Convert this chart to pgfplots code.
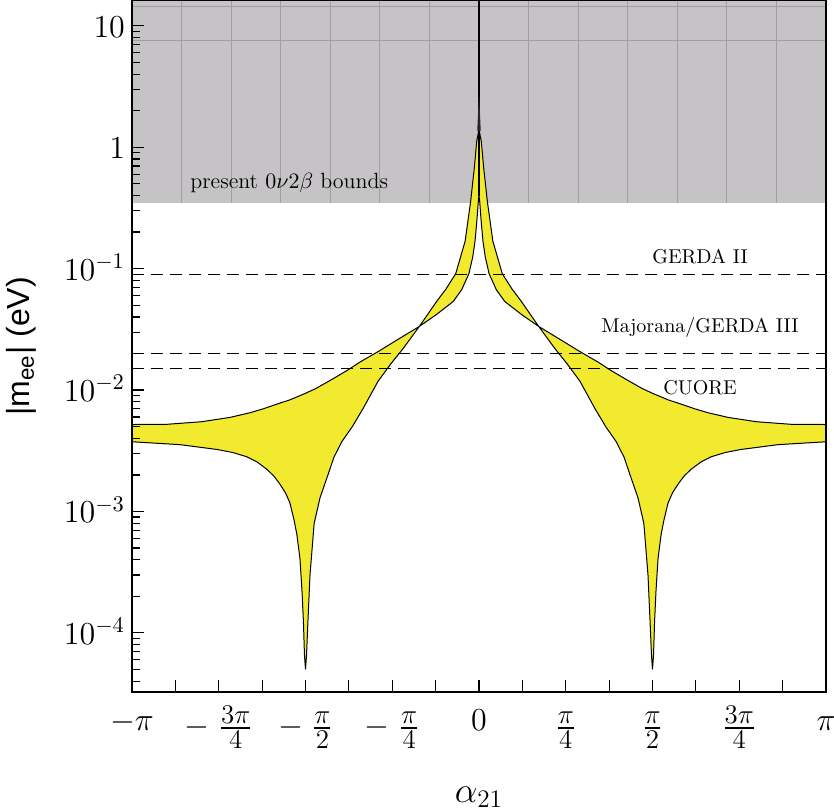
\RequirePackage{fix-cm}
\documentclass[border=0pt]{standalone}
\usepackage{fontspec}
\newfontfamily\arial{Liberation Sans}
\usepackage{pgfplots}
\pgfplotsset{compat=1.18}
\definecolor{grayreg}{RGB}{197,195,197}
\definecolor{gridc}{RGB}{160,158,160}
\definecolor{bandc}{RGB}{242,234,46}
\newcommand\fp[1]{\hbox{\fontsize{13.5}{15}\selectfont$#1$}}
\newcommand\fr[2]{\raisebox{-2.5pt}{${\fp{#1}\above1pt\fp{#2}}$}}
\newcommand\mfr[2]{\raisebox{-2.5pt}{$-\;{\fp{#1}\above1pt\fp{#2}}$}}
\begin{document}
\begin{tikzpicture}
\begin{axis}[
  name=ax,
  scale only axis, width=347pt, height=345.5pt,
  xmin=-1, xmax=1, ymode=log, ymin=3.27e-5, ymax=16.07,
  axis on top,
  axis line style={line width=0.7pt},
  xtick={-1,-0.875,-0.75,-0.625,-0.5,-0.375,-0.25,-0.125,0,0.125,0.25,0.375,0.5,0.625,0.75,0.875,1},
  xticklabels={$-\pi$,{},\mfr{3\pi}{4},{},\mfr{\pi}{2},{},\mfr{\pi}{4},{},$0$,{},\fr{\pi}{4},{},\fr{\pi}{2},{},\fr{3\pi}{4},{},$\pi$},
  ytick={1e-4,1e-3,1e-2,0.1,1,10},
  yticklabels={$10^{-4}$,$10^{-3}$,$10^{-2}$,$10^{-1}$,$1$,$10$},
  minor ytick={4e-5,5e-5,6e-5,7e-5,8e-5,9e-5,
    2e-4,3e-4,4e-4,5e-4,6e-4,7e-4,8e-4,9e-4,
    2e-3,3e-3,4e-3,5e-3,6e-3,7e-3,8e-3,9e-3,
    2e-2,3e-2,4e-2,5e-2,6e-2,7e-2,8e-2,9e-2,
    0.2,0.3,0.4,0.5,0.6,0.7,0.8,0.9,
    2,3,4,5,6,7,8,9},
  xtick pos=left, ytick pos=left,
  tick align=inside,
  major tick length=6pt, minor tick length=4pt,
  tick style={black, line width=0.6pt},
  xticklabel style={font=\fontsize{16}{19}\selectfont, anchor=base, yshift=-19.5pt, inner sep=0pt},
  yticklabel style={font=\fontsize{16}{19}\selectfont, anchor=base east, yshift=-5.7pt},
  xlabel={$\alpha_{21}$},
  xlabel style={font=\fontsize{18}{22}\selectfont, at={(axis description cs:0.5,-0.153)}, anchor=center},
  ylabel={|m\textsubscript{ee}| (eV)},
  ylabel style={font=\arial\fontsize{16}{19}\selectfont, at={(axis description cs:-0.16,0.5)}, anchor=center},
]
% excluded region
\addplot[fill=grayreg, draw=none] coordinates {(-1,0.35) (1,0.35) (1,16.07) (-1,16.07)} --cycle;
\addplot[gridc, line width=0.5pt] coordinates {(-0.857143,0.35) (-0.857143,16.07)};
\addplot[gridc, line width=0.5pt] coordinates {(-0.714286,0.35) (-0.714286,16.07)};
\addplot[gridc, line width=0.5pt] coordinates {(-0.571429,0.35) (-0.571429,16.07)};
\addplot[gridc, line width=0.5pt] coordinates {(-0.428571,0.35) (-0.428571,16.07)};
\addplot[gridc, line width=0.5pt] coordinates {(-0.285714,0.35) (-0.285714,16.07)};
\addplot[gridc, line width=0.5pt] coordinates {(-0.142857,0.35) (-0.142857,16.07)};
\addplot[gridc, line width=0.5pt] coordinates {(0.142857,0.35) (0.142857,16.07)};
\addplot[gridc, line width=0.5pt] coordinates {(0.285714,0.35) (0.285714,16.07)};
\addplot[gridc, line width=0.5pt] coordinates {(0.428571,0.35) (0.428571,16.07)};
\addplot[gridc, line width=0.5pt] coordinates {(0.571429,0.35) (0.571429,16.07)};
\addplot[gridc, line width=0.5pt] coordinates {(0.714286,0.35) (0.714286,16.07)};
\addplot[gridc, line width=0.5pt] coordinates {(0.857143,0.35) (0.857143,16.07)};
\addplot[gridc, line width=0.5pt] coordinates {(-1,7.57) (1,7.57)};
\addplot[gridc, line width=0.5pt] coordinates {(-1,14.5) (1,14.5)};
% left band
\addplot[fill=bandc, draw=black, line width=0.5pt] coordinates {
(-1.000,0.00520) (-0.900,0.00522) (-0.800,0.00548) (-0.718,0.00595) (-0.660,0.00650) (-0.622,0.00700)
(-0.580,0.00770) (-0.545,0.00830) (-0.500,0.00940) (-0.470,0.01030) (-0.429,0.01200) (-0.380,0.01450)
(-0.343,0.01700) (-0.290,0.02080) (-0.230,0.02650) (-0.172,0.03340) (-0.122,0.04200) (-0.074,0.05370)
(-0.050,0.06700) (-0.029,0.09100) (-0.018,0.12500) (-0.0115,0.16800) (-0.006,0.25000) (-0.002,0.35900)
(0,0.40) (0,1.40)
(-0.0066,1.12) (-0.0135,0.675) (-0.024,0.359) (-0.040,0.168) (-0.067,0.091) (-0.095,0.068)
(-0.122,0.0537) (-0.172,0.0334) (-0.218,0.0221) (-0.255,0.0163) (-0.291,0.0118) (-0.334,0.00705)
(-0.365,0.0050) (-0.395,0.00377) (-0.418,0.0028) (-0.438,0.0019) (-0.458,0.0013) (-0.475,0.0008)
(-0.487,0.0003) (-0.493,0.000124) (-0.497,0.000066) (-0.500,0.000050) (-0.503,0.000066) (-0.506,0.000124)
(-0.510,0.000219) (-0.516,0.00041) (-0.525,0.00065) (-0.533,0.00085) (-0.545,0.00118) (-0.558,0.00143)
(-0.575,0.00170) (-0.592,0.00197) (-0.611,0.00222) (-0.640,0.00256) (-0.669,0.00282) (-0.710,0.00306)
(-0.755,0.00324) (-0.862,0.00355) (-1.000,0.00375)} --cycle;
% right band
\addplot[fill=bandc, draw=black, line width=0.5pt] coordinates {
(1.000,0.00520) (0.900,0.00522) (0.800,0.00548) (0.718,0.00595) (0.660,0.00650) (0.622,0.00700)
(0.580,0.00770) (0.545,0.00830) (0.500,0.00940) (0.470,0.01030) (0.429,0.01200) (0.380,0.01450)
(0.343,0.01700) (0.290,0.02080) (0.230,0.02650) (0.172,0.03340) (0.122,0.04200) (0.074,0.05370)
(0.050,0.06700) (0.029,0.09100) (0.018,0.12500) (0.0115,0.16800) (0.006,0.25000) (0.002,0.35900)
(0,0.40) (0,1.40)
(0.0066,1.12) (0.0135,0.675) (0.024,0.359) (0.040,0.168) (0.067,0.091) (0.095,0.068)
(0.122,0.0537) (0.172,0.0334) (0.218,0.0221) (0.255,0.0163) (0.291,0.0118) (0.334,0.00705)
(0.365,0.0050) (0.395,0.00377) (0.418,0.0028) (0.438,0.0019) (0.458,0.0013) (0.475,0.0008)
(0.487,0.0003) (0.493,0.000124) (0.497,0.000066) (0.500,0.000050) (0.503,0.000066) (0.506,0.000124)
(0.510,0.000219) (0.516,0.00041) (0.525,0.00065) (0.533,0.00085) (0.545,0.00118) (0.558,0.00143)
(0.575,0.00170) (0.592,0.00197) (0.611,0.00222) (0.640,0.00256) (0.669,0.00282) (0.710,0.00306)
(0.755,0.00324) (0.862,0.00355) (1.000,0.00375)} --cycle;
% central line and spike
\addplot[black, line width=1pt] coordinates {(0,0.40) (0,16.07)};
\addplot[fill=black!85, draw=none] coordinates {(-0.005,1.36) (0,2.9) (0.005,1.36)} --cycle;
% experimental sensitivities
\addplot[black, line width=0.5pt, dash pattern=on 6pt off 3.5pt] coordinates {(-1,0.09) (1,0.09)};
\addplot[black, line width=0.5pt, dash pattern=on 6pt off 3.5pt] coordinates {(-1,0.02) (1,0.02)};
\addplot[black, line width=0.5pt, dash pattern=on 6pt off 3.5pt] coordinates {(-1,0.015) (1,0.015)};
\node[anchor=west, font=\fontsize{11}{13}\selectfont, inner sep=0pt] at (axis cs:-0.833,0.505) {present $0\nu2\beta$ bounds};
\node[font=\fontsize{10}{12}\selectfont, inner sep=0pt] at (axis cs:0.637,0.1265) {GERDA II};
\node[font=\fontsize{10}{12}\selectfont, inner sep=0pt] at (axis cs:0.637,0.0329) {Majorana/GERDA III};
\node[font=\fontsize{10}{12}\selectfont, inner sep=0pt] at (axis cs:0.637,0.01054) {CUORE};
\end{axis}
\pgfresetboundingbox
\path ([shift={(-66pt,-59.5pt)}]ax.south west) rectangle ([shift={(4pt,0.4pt)}]ax.north east);
\end{tikzpicture}
\end{document}
